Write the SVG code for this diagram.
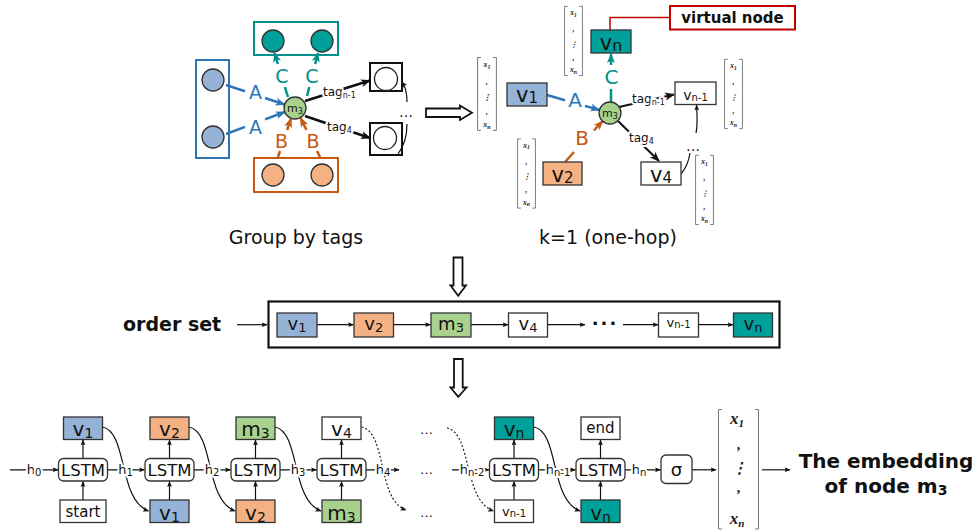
<svg xmlns="http://www.w3.org/2000/svg" width="977" height="532" viewBox="0 0 977 532">
<defs>
<style>
text{font-family:"DejaVu Sans","Liberation Sans",sans-serif;fill:#111}
.b{stroke:#333;stroke-width:1.3}
.blue{fill:#95b3d7}
.org{fill:#f4b183}
.grn{fill:#a9d18e}
.teal{fill:#00a09a}
.wh{fill:#fff}
.c{text-anchor:middle}
.halo{paint-order:stroke;stroke:#fff;stroke-width:4px;stroke-linejoin:round}
.ln{stroke:#111;stroke-width:1.2;fill:none}
.dot{stroke:#111;stroke-width:1.1;fill:none;stroke-dasharray:2 2}
.sB{stroke:#2e75b6;stroke-width:2.5;fill:none}
.sT{stroke:#00918c;stroke-width:2.5;fill:none}
.sO{stroke:#c55a11;stroke-width:2.5;fill:none}
.mx text{font-family:"Liberation Serif","DejaVu Serif",serif;font-style:italic;font-weight:bold;text-anchor:middle;fill:#222}
.mx path{stroke:#555;stroke-width:0.8;fill:none}
</style>
<marker id="a" viewBox="0 0 10 10" refX="9" refY="5" markerWidth="6" markerHeight="6" markerUnits="userSpaceOnUse" orient="auto"><path d="M0,1 L10,5 L0,9 L2,5z" fill="#111"/></marker>
<marker id="aK" viewBox="0 0 10 10" refX="9" refY="5" markerWidth="10" markerHeight="10" markerUnits="userSpaceOnUse" orient="auto"><path d="M0,1 L10,5 L0,9 L2.5,5z" fill="#111"/></marker>
<marker id="aB" viewBox="0 0 10 10" refX="9" refY="5" markerWidth="10" markerHeight="10" markerUnits="userSpaceOnUse" orient="auto"><path d="M0,1 L10,5 L0,9 L2.5,5z" fill="#2e75b6"/></marker>
<marker id="aT" viewBox="0 0 10 10" refX="9" refY="5" markerWidth="10" markerHeight="10" markerUnits="userSpaceOnUse" orient="auto"><path d="M0,1 L10,5 L0,9 L2.5,5z" fill="#00918c"/></marker>
<marker id="aO" viewBox="0 0 10 10" refX="9" refY="5" markerWidth="10" markerHeight="10" markerUnits="userSpaceOnUse" orient="auto"><path d="M0,1 L10,5 L0,9 L2.5,5z" fill="#c55a11"/></marker>
<symbol id="vec" viewBox="0 0 20 74" class="mx">
<path d="M4,0.5 H0.6 V73.4 H4 M16,0.5 H19.4 V73.4 H16"/>
<text x="10" y="10" font-size="8">x<tspan font-size="6" dy="1.5">1</tspan></text>
<text x="10" y="27" font-size="8">,</text>
<text x="10" y="43" font-size="8">⋮</text>
<text x="10" y="57" font-size="8">,</text>
<text x="10" y="70" font-size="8">x<tspan font-size="6" dy="1.5">n</tspan></text>
</symbol>
</defs>
<rect width="977" height="532" fill="#fff"/>

<!-- ===== Top-left: Group by tags ===== -->
<g id="connectors-top-left">
<path d="M226,85 L245,91.3" class="sB"/>
<path d="M265,98 L284.5,104.5" class="sB" marker-end="url(#aB)"/>
<path d="M226,134 L245,126.9" class="sB"/>
<path d="M265,119.4 L284.7,112" class="sB" marker-end="url(#aB)"/>
<path d="M288,97 L284.9,87" class="sT"/>
<path d="M277.9,64 L274.5,53" class="sT" marker-end="url(#aT)"/>
<path d="M307,96 L309.3,87" class="sT"/>
<path d="M315.2,64 L318,53" class="sT" marker-end="url(#aT)"/>
<path d="M278,157 L280,151" class="sO"/>
<path d="M287.1,130 L291,118.5" class="sO" marker-end="url(#aO)"/>
<path d="M320,157 L317,151" class="sO"/>
<path d="M306.5,130 L300.5,118" class="sO" marker-end="url(#aO)"/>
<path d="M305,101 L370,80.5" stroke="#111" stroke-width="2.5" marker-end="url(#aK)"/>
<path d="M305,116 L370,138" stroke="#111" stroke-width="2.5" marker-end="url(#aK)"/>
<path d="M398,154 C404,146 407,135 407,124" class="ln"/>
<path d="M407,102 C407,93 405,86 402,82" class="ln" marker-end="url(#a)"/>
<text x="255.5" y="99" class="c" font-size="19" style="fill:#2e75b6">A</text>
<text x="255.5" y="134" class="c" font-size="19" style="fill:#2e75b6">A</text>
<text x="282" y="83" class="c" font-size="19" style="fill:#00918c">C</text>
<text x="312" y="83" class="c" font-size="19" style="fill:#00918c">C</text>
<text x="281.5" y="148" class="c" font-size="19" style="fill:#c55a11">B</text>
<text x="313" y="148" class="c" font-size="19" style="fill:#c55a11">B</text>
<text x="323" y="96" class="halo" font-size="12">tag<tspan font-size="8" dy="2">n-1</tspan></text>
<text x="327" y="131" class="halo" font-size="12">tag<tspan font-size="8" dy="2">4</tspan></text>
<text x="406" y="117" class="c" font-size="14">…</text>
</g>
<g id="group-A">
<rect x="196" y="60" width="33" height="98" fill="none" stroke="#2e75b6" stroke-width="2"/>
<circle cx="213" cy="80" r="11" class="blue b"/>
<circle cx="213" cy="137" r="11" class="blue b"/>
</g>
<g id="group-C">
<rect x="254" y="22" width="84" height="33" fill="none" stroke="#00918c" stroke-width="2"/>
<circle cx="273" cy="41" r="11" class="teal b"/>
<circle cx="322" cy="41" r="11" class="teal b"/>
</g>
<g id="group-B">
<rect x="254" y="158" width="84" height="34" fill="none" stroke="#c55a11" stroke-width="2"/>
<circle cx="273" cy="175" r="11" class="org b"/>
<circle cx="322" cy="175" r="11" class="org b"/>
</g>
<g id="m3-left">
<circle cx="295" cy="108" r="11" class="grn b"/>
<text x="295" y="112" class="c" font-size="11">m<tspan font-size="8" dy="2">3</tspan></text>
</g>
<g id="tag-groups">
<rect x="370" y="63" width="32" height="28" fill="none" stroke="#111" stroke-width="2"/>
<circle cx="386" cy="79" r="11.5" fill="#fff" stroke="#222" stroke-width="1.3"/>
<rect x="370" y="123" width="32" height="32" fill="none" stroke="#111" stroke-width="2"/>
<circle cx="385" cy="138" r="11.5" fill="#fff" stroke="#222" stroke-width="1.3"/>
</g>
<text x="296" y="244" class="c" font-size="19">Group by tags</text>

<!-- hollow right arrow -->
<polygon points="426,108.5 460,108.5 460,105.5 472,112.7 460,120 460,117 426,117" fill="#fff" stroke="#111" stroke-width="1.8"/>

<!-- ===== Top-right: k=1 ===== -->
<g id="connectors-top-right">
<path d="M547,95 L565,100.2" class="sB"/>
<path d="M585,105.9 L599.4,110" class="sB" marker-end="url(#aB)"/>
<path d="M565,162 L574,152" class="sO"/>
<path d="M594,130.5 L602.6,121" class="sO" marker-end="url(#aO)"/>
<path d="M611,102 L611,89" class="sT"/>
<path d="M611,65 L611,54" class="sT" marker-end="url(#aT)"/>
<path d="M619,107 L674,94.5" stroke="#111" stroke-width="2" marker-end="url(#aK)"/>
<path d="M618,121 L659,161" stroke="#111" stroke-width="2" marker-end="url(#aK)"/>
<path d="M681,174 C686,168 689,160 690,153" class="ln"/>
<path d="M696,133 C698,124 697,114 696.5,105" class="ln" marker-end="url(#a)"/>
<path d="M610,30 V17.5 H670" fill="none" stroke="#c00000" stroke-width="1.5"/>
<text x="575" y="107" class="c" font-size="20" style="fill:#2e75b6">A</text>
<text x="582" y="145" class="c" font-size="20" style="fill:#c55a11">B</text>
<text x="611.5" y="84" class="c" font-size="20" style="fill:#00918c">C</text>
<text x="632" y="103" class="halo" font-size="12">tag<tspan font-size="8" dy="2">n-1</tspan></text>
<text x="629" y="142" class="halo" font-size="12">tag<tspan font-size="8" dy="2">4</tspan></text>
<text x="693" y="151" class="c" font-size="14">…</text>
</g>
<g id="node-vn-top">
<rect x="591" y="30" width="40" height="23" class="teal b"/>
<text x="611" y="50" class="c" font-size="21">v<tspan font-size="16" dy="1">n</tspan></text>
</g>
<g id="virtual-node">
<rect x="670" y="6" width="125" height="23.5" fill="#fff" stroke="#c00000" stroke-width="2"/>
<text x="732.5" y="23" class="c" font-size="15" font-weight="bold">virtual node</text>
</g>
<g id="node-v1-top">
<rect x="507" y="83" width="40" height="23" class="blue b"/>
<text x="527" y="101.5" class="c" font-size="21">v<tspan font-size="15" dy="1">1</tspan></text>
</g>
<g id="node-m3-top">
<circle cx="610" cy="113" r="11" class="grn b"/>
<text x="610" y="117" class="c" font-size="11">m<tspan font-size="8" dy="2">3</tspan></text>
</g>
<g id="node-v2-top">
<rect x="543" y="162" width="39" height="23" class="org b"/>
<text x="562.5" y="181.5" class="c" font-size="21">v<tspan font-size="15" dy="1">2</tspan></text>
</g>
<g id="node-v4-top">
<rect x="641" y="162" width="40" height="23" class="wh b"/>
<text x="661" y="181.5" class="c" font-size="21">v<tspan font-size="15" dy="1">4</tspan></text>
</g>
<g id="node-vn1-top">
<rect x="675" y="82" width="41" height="22.5" class="wh b"/>
<text x="695.5" y="99.5" class="c" font-size="14">v<tspan font-size="10" dy="1">n-1</tspan></text>
</g>
<g id="vectors-top">
<use href="#vec" x="477" y="57" width="20" height="74"/>
<use href="#vec" x="564" y="5" width="19" height="72"/>
<use href="#vec" x="517" y="137" width="19" height="73"/>
<use href="#vec" x="724" y="58" width="19" height="72"/>
<use href="#vec" x="695" y="153" width="19" height="74"/>
</g>
<text x="608" y="244" class="c" font-size="19">k=1 (one-hop)</text>

<!-- hollow down arrows -->
<polygon points="453.5,257.5 462.5,257.5 462.5,285.5 466,285.5 458.2,295.8 450.5,285.5 453.5,285.5" fill="#fff" stroke="#111" stroke-width="1.8"/>
<polygon points="454,359 462.7,359 462.7,387.5 466.5,387.5 458.3,396.8 450.5,387.5 454,387.5" fill="#fff" stroke="#111" stroke-width="1.8"/>

<!-- ===== Order set ===== -->
<text x="123" y="331" font-size="19" font-weight="bold">order set</text>
<g id="order-set-frame">
<rect x="268.5" y="301.5" width="511" height="46" fill="#fff" stroke="#111" stroke-width="2.2"/>
</g>
<g id="connectors-order">
<path d="M237,324.7 H267" class="ln" marker-end="url(#a)"/>
<path d="M317,324.7 H353.5" class="ln" marker-end="url(#a)"/>
<path d="M393.5,324.7 H430.5" class="ln" marker-end="url(#a)"/>
<path d="M471,324.7 H508" class="ln" marker-end="url(#a)"/>
<path d="M547.5,324.7 H585" class="ln" marker-end="url(#a)"/>
<path d="M623,324.7 H658" class="ln" marker-end="url(#a)"/>
<path d="M698.5,324.7 H733" class="ln" marker-end="url(#a)"/>
<text x="605" y="329.5" class="c" font-size="18" font-weight="bold" letter-spacing="2">···</text>
</g>
<g id="os-v1"><rect x="277" y="313" width="40" height="24" class="blue b"/><text x="297" y="330" class="c" font-size="18">v<tspan font-size="13" dy="1.5">1</tspan></text></g>
<g id="os-v2"><rect x="354" y="313" width="39.5" height="24" class="org b"/><text x="373.7" y="330" class="c" font-size="18">v<tspan font-size="13" dy="1.5">2</tspan></text></g>
<g id="os-m3"><rect x="431" y="313" width="40" height="24" class="grn b"/><text x="451" y="330" class="c" font-size="18">m<tspan font-size="13" dy="1.5">3</tspan></text></g>
<g id="os-v4"><rect x="508.5" y="313" width="39" height="24" class="wh b"/><text x="528" y="330" class="c" font-size="18">v<tspan font-size="13" dy="1.5">4</tspan></text></g>
<g id="os-vn1"><rect x="658.5" y="313" width="40" height="24" class="wh b"/><text x="678.5" y="327" class="c" font-size="13">v<tspan font-size="10" dy="1">n-1</tspan></text></g>
<g id="os-vn"><rect x="733.5" y="313" width="39" height="24" class="teal b"/><text x="753" y="330" class="c" font-size="18">v<tspan font-size="13" dy="1.5">n</tspan></text></g>

<!-- ===== LSTM chain ===== -->
<g id="connectors-lstm">
<path d="M83,458.5 V440" class="ln" marker-end="url(#a)"/>
<path d="M83,500 V481.5" class="ln" marker-end="url(#a)"/>
<path d="M169.5,458.5 V440" class="ln" marker-end="url(#a)"/>
<path d="M169.5,500 V481.5" class="ln" marker-end="url(#a)"/>
<path d="M255.5,458.5 V440" class="ln" marker-end="url(#a)"/>
<path d="M255.5,500 V481.5" class="ln" marker-end="url(#a)"/>
<path d="M341.5,458.5 V440" class="ln" marker-end="url(#a)"/>
<path d="M341.5,500 V481.5" class="ln" marker-end="url(#a)"/>
<path d="M514,458.5 V440" class="ln" marker-end="url(#a)"/>
<path d="M514,500 V481.5" class="ln" marker-end="url(#a)"/>
<path d="M600.5,458.5 V440" class="ln" marker-end="url(#a)"/>
<path d="M600.5,500 V481.5" class="ln" marker-end="url(#a)"/>
<path d="M102.5,427 C128,432 118,500 148.5,511" class="ln" marker-end="url(#a)"/>
<path d="M189,427 C214.5,432 204.5,500 235,511" class="ln" marker-end="url(#a)"/>
<path d="M275,427 C300.5,432 290.5,500 321,511" class="ln" marker-end="url(#a)"/>
<path d="M361.5,427 C387,432 377,500 406,510" class="dot" marker-end="url(#a)"/>
<path d="M447,428 C472,433 463,500 493.5,511" class="dot" marker-end="url(#a)"/>
<path d="M534,427 C559.5,432 549.5,500 580,511" class="ln" marker-end="url(#a)"/>
<path d="M10,469.8 H58" class="ln" marker-end="url(#a)"/>
<path d="M107.5,469.8 H144.5" class="ln" marker-end="url(#a)"/>
<path d="M194,469.8 H230.5" class="ln" marker-end="url(#a)"/>
<path d="M280,469.8 H316.5" class="ln" marker-end="url(#a)"/>
<path d="M366,469.8 H399" class="ln" marker-end="url(#a)"/>
<path d="M452,469.8 H489" class="ln" marker-end="url(#a)"/>
<path d="M538.5,469.8 H575.5" class="ln" marker-end="url(#a)"/>
<path d="M625,469.8 H660.5" class="ln" marker-end="url(#a)"/>
<path d="M692,469.8 H716" class="ln" marker-end="url(#a)"/>
<path d="M762,469.8 H790" class="ln" marker-end="url(#a)"/>
<text x="34" y="474" class="c halo" font-size="13">h<tspan font-size="10" dy="2">0</tspan></text>
<text x="125.5" y="474" class="c halo" font-size="13">h<tspan font-size="10" dy="2">1</tspan></text>
<text x="212" y="474" class="c halo" font-size="13">h<tspan font-size="10" dy="2">2</tspan></text>
<text x="298" y="474" class="c halo" font-size="13">h<tspan font-size="10" dy="2">3</tspan></text>
<text x="383" y="474" class="c halo" font-size="13">h<tspan font-size="10" dy="2">4</tspan></text>
<text x="472" y="474" class="c halo" font-size="13">h<tspan font-size="10" dy="2">n-2</tspan></text>
<text x="558" y="474" class="c halo" font-size="13">h<tspan font-size="10" dy="2">n-1</tspan></text>
<text x="639" y="474" class="c halo" font-size="13">h<tspan font-size="10" dy="2">n</tspan></text>
<text x="426.5" y="434" class="c" font-size="13">…</text>
<text x="426.5" y="474" class="c" font-size="13">…</text>
<text x="426.5" y="517" class="c" font-size="13">…</text>
</g>

<g id="col1">
<rect x="63.5" y="417" width="39" height="22.5" class="blue b"/><text x="83" y="436" class="c" font-size="20">v<tspan font-size="14" dy="2">1</tspan></text>
<rect x="58.5" y="458.5" width="49" height="22.5" rx="5" class="wh b"/><text x="83" y="476" class="c" font-size="16.5">LSTM</text>
<rect x="60" y="500" width="46" height="22.5" class="wh b"/><text x="83" y="517" class="c" font-size="15">start</text>
</g>
<g id="col2">
<rect x="150" y="417" width="39" height="22.5" class="org b"/><text x="169.5" y="436" class="c" font-size="20">v<tspan font-size="14" dy="2">2</tspan></text>
<rect x="145" y="458.5" width="49" height="22.5" rx="5" class="wh b"/><text x="169.5" y="476" class="c" font-size="16.5">LSTM</text>
<rect x="150" y="500" width="39" height="22.5" class="blue b"/><text x="169.5" y="519.5" class="c" font-size="20">v<tspan font-size="14" dy="2">1</tspan></text>
</g>
<g id="col3">
<rect x="236" y="417" width="39" height="22.5" class="grn b"/><text x="255.5" y="436" class="c" font-size="20">m<tspan font-size="14" dy="2">3</tspan></text>
<rect x="231" y="458.5" width="49" height="22.5" rx="5" class="wh b"/><text x="255.5" y="476" class="c" font-size="16.5">LSTM</text>
<rect x="236" y="500" width="39" height="22.5" class="org b"/><text x="255.5" y="519.5" class="c" font-size="20">v<tspan font-size="14" dy="2">2</tspan></text>
</g>
<g id="col4">
<rect x="322" y="417" width="39" height="22.5" class="wh b"/><text x="341.5" y="436" class="c" font-size="20">v<tspan font-size="14" dy="2">4</tspan></text>
<rect x="317" y="458.5" width="49" height="22.5" rx="5" class="wh b"/><text x="341.5" y="476" class="c" font-size="16.5">LSTM</text>
<rect x="322" y="500" width="39" height="22.5" class="grn b"/><text x="341.5" y="519.5" class="c" font-size="20">m<tspan font-size="14" dy="2">3</tspan></text>
</g>
<g id="coln">
<rect x="494.5" y="417" width="39" height="22.5" class="teal b"/><text x="514" y="436" class="c" font-size="20">v<tspan font-size="14" dy="2">n</tspan></text>
<rect x="489.5" y="458.5" width="49" height="22.5" rx="5" class="wh b"/><text x="514" y="476" class="c" font-size="16.5">LSTM</text>
<rect x="494.5" y="500" width="39" height="22.5" class="wh b"/><text x="514" y="516" class="c" font-size="13">v<tspan font-size="10" dy="1">n-1</tspan></text>
</g>
<g id="coln1">
<rect x="581" y="417" width="39" height="22.5" class="wh b"/><text x="600.5" y="433" class="c" font-size="15">end</text>
<rect x="576" y="458.5" width="49" height="22.5" rx="5" class="wh b"/><text x="600.5" y="476" class="c" font-size="16.5">LSTM</text>
<rect x="581" y="500" width="39" height="22.5" class="teal b"/><text x="600.5" y="519.5" class="c" font-size="20">v<tspan font-size="14" dy="2">n</tspan></text>
</g>
<g id="sigma">
<rect x="661" y="455" width="31" height="28.5" rx="5" class="wh b"/>
<text x="676.5" y="475.5" class="c" font-size="18">σ</text>
</g>
<g id="embedding-vector" class="mx">
<path d="M722,409.5 H718.5 V529 H722 M755,409.5 H758.5 V529 H755"/>
<text x="737" y="424" font-size="17">x<tspan font-size="11" dy="3">1</tspan></text>
<text x="739" y="449" font-size="15">,</text>
<text x="739" y="473" font-size="15">⋮</text>
<text x="739" y="492" font-size="15">,</text>
<text x="737" y="524" font-size="17">x<tspan font-size="11" dy="3">n</tspan></text>
</g>
<g id="embedding-label">
<text x="886" y="468" class="c" font-size="20" font-weight="bold">The embedding</text>
<text x="886" y="493" class="c" font-size="20" font-weight="bold">of node m<tspan font-size="14" dy="2">3</tspan></text>
</g>
</svg>
